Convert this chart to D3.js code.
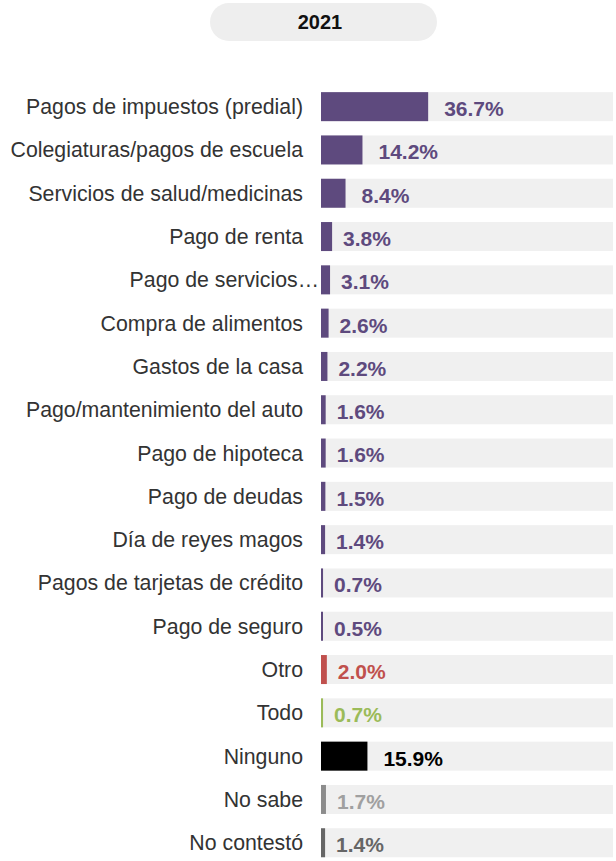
<!DOCTYPE html>
<html>
<head>
<meta charset="utf-8">
<script src="https://cdn.jsdelivr.net/npm/d3@7"></script>
<style>
  body { margin: 0; background: #fff; }
  text { font-family: "Liberation Sans", Arial, sans-serif; }
</style>
</head>
<body>
<div id="chart"></div>
<script>
// values
let categories = ["Pagos de impuestos (predial)", "Colegiaturas/pagos de escuela", "Servicios de salud/medicinas",
  "Pago de renta", "Pago de servicios…", "Compra de alimentos", "Gastos de la casa",
  "Pago/mantenimiento del auto", "Pago de hipoteca", "Pago de deudas", "Día de reyes magos",
  "Pagos de tarjetas de crédito", "Pago de seguro", "Otro", "Todo", "Ninguno", "No sabe", "No contestó"];
let values = [36.7, 14.2, 8.4, 3.8, 3.1, 2.6, 2.2, 1.6, 1.6, 1.5, 1.4, 0.7, 0.5, 2.0, 0.7, 15.9, 1.7, 1.4];
let barColors = ["#5e4a7e", "#5e4a7e", "#5e4a7e", "#5e4a7e", "#5e4a7e", "#5e4a7e", "#5e4a7e", "#5e4a7e",
  "#5e4a7e", "#5e4a7e", "#5e4a7e", "#5e4a7e", "#5e4a7e", "#c0504d", "#9bbb59", "#000000", "#8c8c8c", "#666666"];
let labelColors = ["#5e4a7e", "#5e4a7e", "#5e4a7e", "#5e4a7e", "#5e4a7e", "#5e4a7e", "#5e4a7e", "#5e4a7e",
  "#5e4a7e", "#5e4a7e", "#5e4a7e", "#5e4a7e", "#5e4a7e", "#c0504d", "#9bbb59", "#000000", "#a0a0a0", "#666666"];
let year = "2021";

let data = categories.map((c, i) => ({name: c, value: values[i], bar: barColors[i], label: labelColors[i]}));

let svg = d3.select("#chart")
  .append("svg")
    .attr("width", 616)
    .attr("height", 861);

// title pill
svg.append("rect")
  .attr("x", 210).attr("y", 3)
  .attr("width", 227).attr("height", 38)
  .attr("rx", 19)
  .attr("fill", "#eeeeee");
svg.append("text")
  .attr("x", 320).attr("y", 29)
  .attr("text-anchor", "middle")
  .attr("font-size", 20)
  .attr("font-weight", "bold")
  .attr("fill", "#111")
  .text(year);

let x = d3.scaleLinear().domain([0, 100]).range([321, 613]);
let y = d3.scaleBand().domain(categories).range([85, 864.4]).paddingInner(0.33).paddingOuter(0.165);

// background tracks
svg.selectAll(".track").data(data).enter()
  .append("rect")
  .attr("class", "track")
  .attr("x", x(0))
  .attr("y", d => y(d.name))
  .attr("width", x(100) - x(0))
  .attr("height", y.bandwidth())
  .attr("fill", "#f0f0f0");

svg.selectAll(".bar").data(data).enter()
  .append("rect")
  .attr("class", "bar")
  .attr("x", x(0))
  .attr("y", d => y(d.name))
  .attr("width", d => Math.max(2, x(d.value) - x(0)))
  .attr("height", y.bandwidth())
  .attr("fill", d => d.bar);

svg.selectAll(".cat").data(data).enter()
  .append("text")
  .attr("class", "cat")
  .attr("x", d => d.name.endsWith("…") ? 319 : 303)
  .attr("y", d => y(d.name) + y.bandwidth() / 2)
  .attr("dy", "0.35em")
  .attr("text-anchor", "end")
  .attr("font-size", 21.3)
  .attr("fill", "#333")
  .text(d => d.name);

svg.selectAll(".val").data(data).enter()
  .append("text")
  .attr("class", "val")
  .attr("x", d => Math.max(x(d.value), x(0) + 2) + (d.value > 5 ? 16 : 11))
  .attr("y", d => y(d.name) + y.bandwidth() / 2 + 2)
  .attr("dy", "0.35em")
  .attr("font-size", 21)
  .attr("font-weight", "bold")
  .attr("fill", d => d.label)
  .text(d => d.value.toFixed(1) + "%");
</script>
</body>
</html>
